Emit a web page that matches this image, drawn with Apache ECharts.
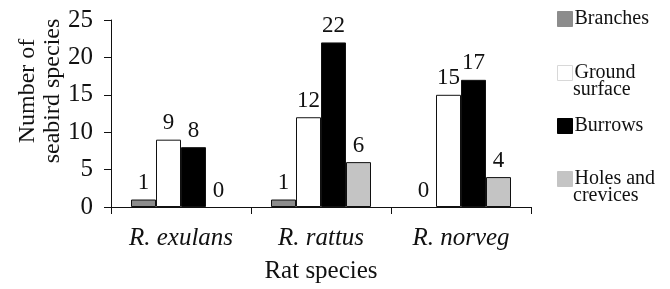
<!DOCTYPE html>
<html>
<head>
<meta charset="utf-8">
<script src="https://cdn.jsdelivr.net/npm/echarts@6/dist/echarts.min.js"></script>
<style>
  html, body { margin: 0; padding: 0; background: #fff; }
  #chart { width: 670px; height: 289px; }
</style>
</head>
<body>
<div id="chart"></div>
<script>
// rat species on the x axis
var ratSpecies = ['R. exulans', 'R. rattus', 'R. norveg'];
// nesting habitat series
var habitats = ['Branches', 'Ground surface', 'Burrows', 'Holes and crevices'];
var branches = [1, 1, 0];
var groundSurface = [9, 12, 15];
var burrows = [8, 22, 17];
var holesCrevices = [0, 6, 4];
var yTicks = [0, 5, 10, 15, 20, 25];

var fontFamily = '"Liberation Serif", "DejaVu Serif", serif';
var fills = ['#8c8c8c', '#ffffff', '#000000', '#c4c4c4'];
var values = [branches, groundSurface, burrows, holesCrevices];

var myChart = echarts.init(document.getElementById('chart'));

var series = habitats.map(function (name, i) {
	return {
		name: name,
		type: 'bar',
		barWidth: 25,
		barGap: '0%',
		// a zero bar has no visible outline in the original
		data: values[i].map(function (v) {
			return v === 0 ? { value: v, itemStyle: { borderWidth: 0 } } : v;
		}),
		itemStyle: {
			color: fills[i],
			borderColor: '#111',
			borderWidth: 1
		},
		label: {
			show: true,
			position: 'top',
			distance: 5,
			color: '#111',
			fontFamily: fontFamily,
			fontSize: 23
		}
	};
});

// one legend per item so the uneven spacing can be matched
var legendTops = [4, 58, 111, 164];
var legendIconBorder = ['#8c8c8c', '#d8d8d8', '#000', '#c4c4c4'];
var legends = habitats.map(function (name, i) {
	return {
		left: 552,
		top: legendTops[i],
		orient: 'vertical',
		icon: 'rect',
		itemWidth: 15,
		itemHeight: 15,
		itemGap: 0,
		selectedMode: false,
		data: [{
			name: name,
			itemStyle: { borderColor: legendIconBorder[i], borderWidth: 1 }
		}],
		formatter: function (n) {
			if (n === 'Ground surface') return 'Ground';
			if (n === 'Holes and crevices') return 'Holes and';
			return n;
		},
		textStyle: {
			color: '#111',
			fontFamily: fontFamily,
			fontSize: 20,
			padding: [0, 0, 0, -3]
		}
	};
});

option = {
	animation: false,
	backgroundColor: '#fff',
	grid: {
		left: 111,
		right: 139,
		top: 20,
		bottom: 81
	},
	legend: legends,
	xAxis: {
		type: 'category',
		data: ratSpecies,
		name: 'Rat species',
		nameLocation: 'middle',
		nameGap: 52,
		nameTextStyle: {
			color: '#111',
			fontFamily: fontFamily,
			fontSize: 25
		},
		axisLine: { lineStyle: { color: '#111', width: 1 } },
		axisTick: { show: true, length: 7, lineStyle: { color: '#111' } },
		axisLabel: {
			margin: 19,
			color: '#111',
			fontFamily: fontFamily,
			fontStyle: 'italic',
			fontSize: 25
		}
	},
	yAxis: {
		type: 'value',
		min: yTicks[0],
		max: yTicks[yTicks.length - 1],
		interval: 5,
		splitLine: { show: false },
		axisLine: { show: true, lineStyle: { color: '#111', width: 1 } },
		axisTick: { show: true, length: 7, lineStyle: { color: '#111' } },
		axisLabel: {
			margin: 18,
			color: '#111',
			fontFamily: fontFamily,
			fontSize: 25
		}
	},
	graphic: [{
		type: 'text',
		x: 40,
		y: 91,
		rotation: Math.PI / 2,
		style: {
			text: 'Number of\nseabird species',
			align: 'center',
			verticalAlign: 'middle',
			lineHeight: 25,
			fill: '#111',
			fontFamily: fontFamily,
			fontSize: 24
		}
	}, {
		type: 'text',
		left: 573,
		top: 80,
		style: {
			text: 'surface',
			fill: '#111',
			fontFamily: fontFamily,
			fontSize: 20
		}
	}, {
		type: 'text',
		left: 573,
		top: 186,
		style: {
			text: 'crevices',
			fill: '#111',
			fontFamily: fontFamily,
			fontSize: 20
		}
	}],
	series: series
};
myChart.setOption(option);
</script>
</body>
</html>
